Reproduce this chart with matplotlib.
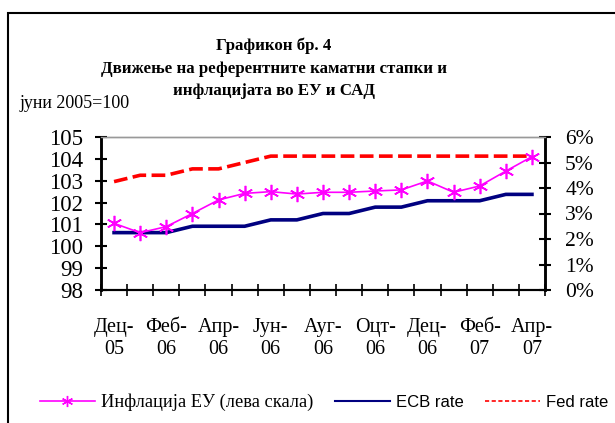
import matplotlib.pyplot as plt
from matplotlib.patches import Rectangle
from matplotlib.ticker import FuncFormatter

# податоци
meseci = ['Дец-\n05', '', 'Феб-\n06', '', 'Апр-\n06', '', 'Јун-\n06', '', 'Ауг-\n06', '',
          'Оцт-\n06', '', 'Дец-\n06', '', 'Феб-\n07', '', 'Апр-\n07']
inflacija_eu = [101.05, 100.62, 100.9, 101.5, 102.12, 102.42, 102.5, 102.39, 102.47,
                102.47, 102.53, 102.58, 102.99, 102.47, 102.76, 103.44, 104.1]
ecb_rate = [2.25, 2.25, 2.25, 2.5, 2.5, 2.5, 2.75, 2.75, 3.0, 3.0, 3.25, 3.25,
            3.5, 3.5, 3.5, 3.75, 3.75]
fed_rate = [4.25, 4.5, 4.5, 4.75, 4.75, 5.0, 5.25, 5.25, 5.25, 5.25, 5.25, 5.25,
            5.25, 5.25, 5.25, 5.25, 5.25]

serif = ['Liberation Serif', 'DejaVu Serif']
sans = ['Liberation Sans', 'DejaVu Sans']
plt.rcParams['font.family'] = serif

fig = plt.figure(figsize=(6.15, 4.23), dpi=100)
# рамка околу графиконот (исечена десно и долу)
fig.patches.append(Rectangle((8 / 615, -0.05), 1.1, 1 - 13 / 423 + 0.05,
                             transform=fig.transFigure, fill=False,
                             edgecolor='black', linewidth=1.5))

ax = fig.add_axes([101 / 615, 1 - 290 / 423, 444 / 615, 153 / 423])
ax2 = ax.twinx()
x = list(range(len(inflacija_eu)))

ax2.plot(x, fed_rate, color='#FF0000', linewidth=2.6, dashes=(3.8, 1.5), zorder=2)
ax2.plot(x, ecb_rate, color='#000080', linewidth=2.6, zorder=2)
ax2.set_ylim(0, 6)
ax2.set_yticks(range(0, 7))
ax2.yaxis.set_major_formatter(FuncFormatter(lambda v, p: f'{v:.0f}%'))

ax.plot(x, inflacija_eu, color='#FF00FF', linewidth=1.2, marker=(6, 2, 0),
        markersize=11, markeredgewidth=1.2, zorder=3)
ax.set_zorder(ax2.get_zorder() + 1)
ax.patch.set_visible(False)
ax.set_ylim(98, 105)
ax.set_yticks(range(98, 106))
ax.set_xlim(-0.5, len(x) - 0.5)
ax.set_xticks(x)
ax.set_xticklabels(meseci, fontsize=14.5, linespacing=1.2)
ax.set_xticks([i - 0.5 for i in range(len(x) + 1)], minor=True)
ax.tick_params(axis='x', which='major', length=0, pad=20)
ax.tick_params(axis='x', which='minor', direction='inout', length=9, width=1.2)
ax.tick_params(axis='y', direction='inout', length=9, width=1.5, labelsize=16.5, pad=8.5)
ax2.tick_params(axis='y', direction='inout', length=9, width=1.5, labelsize=15.5, pad=10)

for a in (ax, ax2):
    a.spines['top'].set_color('#999999')
    a.spines['top'].set_linewidth(1)
    a.spines['left'].set_linewidth(1.8)
    a.spines['right'].set_linewidth(1.8)
    a.spines['bottom'].set_linewidth(1.5)

fig.text(274 / 615, 1 - 46 / 423, 'Графикон бр. 4', ha='center', va='center',
         fontsize=12.2, fontweight='bold')
fig.text(274 / 615, 1 - 69 / 423, 'Движење на референтните каматни стапки и',
         ha='center', va='center', fontsize=12.2, fontweight='bold')
fig.text(274 / 615, 1 - 91 / 423, 'инфлацијата во ЕУ и САД', ha='center',
         va='center', fontsize=12.2, fontweight='bold')
fig.text(20 / 615, 1 - 103 / 423, 'јуни 2005=100', ha='left', va='center', fontsize=13)

# легенда
h1, = ax.plot([], [], color='#FF00FF', linewidth=1.2, marker=(6, 2, 0),
              markersize=8, markeredgewidth=1)
h2, = ax.plot([], [], color='#000080', linewidth=1.5)
h3, = ax.plot([], [], color='#FF0000', linewidth=1.2, dashes=(2.5, 1.5))
leg = fig.legend([h1, h2, h3], ['Инфлација ЕУ (лева скала)', 'ECB rate', 'Fed rate'],
                 loc='center', bbox_to_anchor=(324 / 615, 1 - 402 / 423), ncol=3,
                 frameon=False, fontsize=12, handlelength=3.3, handletextpad=0.36,
                 columnspacing=1.3)
leg.get_texts()[0].set_fontsize(13.2)
for t in leg.get_texts()[1:]:
    t.set_family(sans)

fig.savefig('out.png', dpi=100)
